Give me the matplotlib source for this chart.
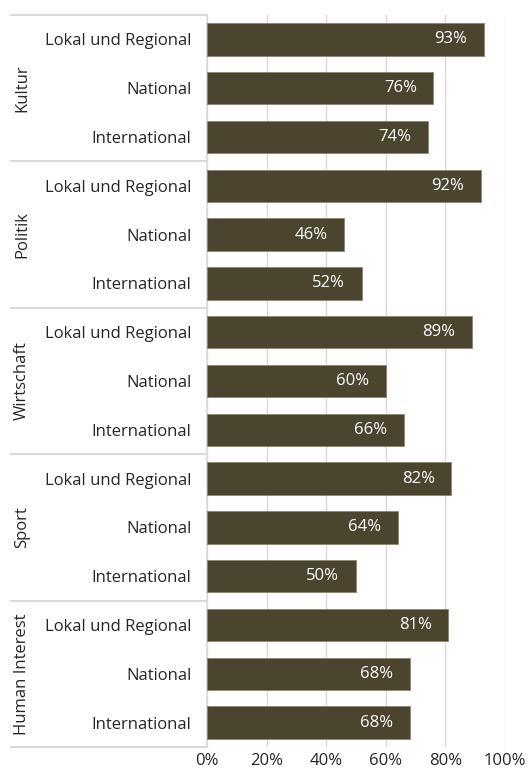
import matplotlib
matplotlib.use("Agg")
import matplotlib.pyplot as plt
import matplotlib.transforms as mtransforms

plt.rcParams['font.family'] = ['Open Sans', 'DejaVu Sans']

groups = ['Kultur', 'Politik', 'Wirtschaft', 'Sport', 'Human Interest']
levels = ['Lokal und Regional', 'National', 'International']
values = [
    [0.93, 0.76, 0.74],   # Kultur
    [0.92, 0.46, 0.52],   # Politik
    [0.89, 0.60, 0.66],   # Wirtschaft
    [0.82, 0.64, 0.50],   # Sport
    [0.81, 0.68, 0.68],   # Human Interest
]
xticks = [0, 0.2, 0.4, 0.6, 0.8, 1.0]

bar_color = '#4b4530'
line_color = '#d9d9d9'
text_color = '#262626'
fs = 12

W, H = 529, 774
x0, x1 = 207, 505
fig = plt.figure(figsize=(W / 100, H / 100), dpi=100)
ax = fig.add_axes([x0 / W, 1 - 747 / H, (x1 - x0) / W, (747 - 15) / H])

pos, vals, labels = [], [], []
for g, row in enumerate(values):
    for i, v in enumerate(row):
        pos.append(g * 3 + i)
        vals.append(v)
        labels.append(levels[i])

ax.barh(pos, vals, height=0.66, color=bar_color, edgecolor='#8c8672',
        linewidth=0.6, zorder=3)
for p, v in zip(pos, vals):
    ax.annotate(f'{v:.0%}', xy=(v, p), xytext=(-12, 0), textcoords='offset points',
                ha='right', va='center', color='white', fontsize=fs, zorder=4)

n = len(pos)
ax.set_ylim(n - 0.5, -0.5)
ax.set_xlim(0, 1)
ax.set_yticks(pos)
ax.set_yticklabels(labels, fontsize=fs, color=text_color)
ax.set_xticks(xticks)
ax.set_xticklabels([f'{t:.0%}' for t in xticks], fontsize=fs, color=text_color)
ax.tick_params(axis='both', length=0)
ax.tick_params(axis='y', pad=11)
ax.tick_params(axis='x', pad=4)

ax.grid(axis='x', color=line_color, linewidth=1, zorder=0)
for s in ['top', 'right', 'bottom']:
    ax.spines[s].set_visible(False)
ax.spines['left'].set_color(line_color)
ax.spines['left'].set_linewidth(1.2)

# group separators and group labels
span = x1 - x0
trans = mtransforms.blended_transform_factory(ax.transAxes, ax.transData)
for g in range(len(groups) + 1):
    y = g * 3 - 0.5
    ax.plot([(11 - x0) / span, 0], [y, y], color=line_color, linewidth=1.5,
            transform=trans, clip_on=False)
for g, name in enumerate(groups):
    ax.text((22 - x0) / span, g * 3 + 1, name, rotation=90, ha='center', va='center',
            fontsize=fs, color=text_color, transform=trans)

fig.savefig('out.png', dpi=100)
